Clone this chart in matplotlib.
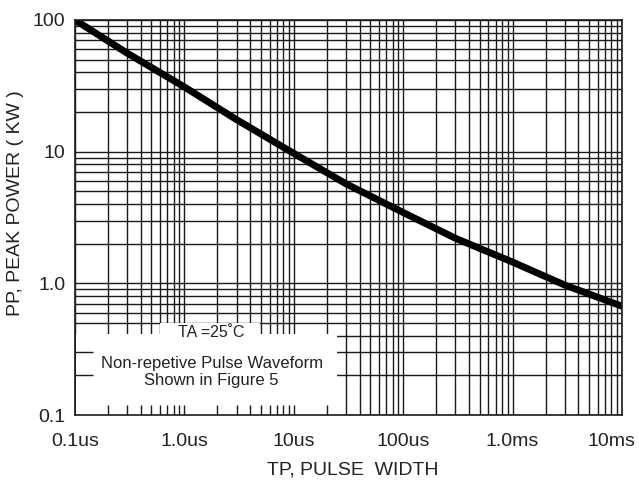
import matplotlib
matplotlib.use("Agg")
import matplotlib.pyplot as plt
import matplotlib.transforms as mtransforms
from matplotlib.patches import Rectangle
from matplotlib.ticker import FixedLocator, NullFormatter

plt.rcParams['font.family'] = ['Liberation Sans', 'DejaVu Sans']

# values (seconds, kW)
pulse_width = [1e-7, 3e-7, 1e-6, 3e-6, 1e-5, 3e-5, 1e-4, 3e-4, 1e-3, 3e-3, 1e-2]
peak_power = [100, 56, 31, 17.5, 9.7, 5.7, 3.45, 2.2, 1.45, 0.97, 0.67]

x_ticks = [1e-7, 1e-6, 1e-5, 1e-4, 1e-3, 1e-2]
x_labels = ["0.1us", "1.0us", "10us", "100us", "1.0ms", "10ms"]
y_ticks = [0.1, 1, 10, 100]
y_labels = ["0.1", "1.0", "10", "100"]

x_minor = [m * d for d in x_ticks[:-1] for m in range(2, 10)]
y_minor = [m * d for d in y_ticks[:-1] for m in range(2, 10)]

fig = plt.figure(figsize=(6.39, 4.88), dpi=100)
ax = fig.add_axes([75/639, 1 - 415/488, 547/639, 395/488])

ax.set_xscale('log')
ax.set_yscale('log')
ax.set_xlim(1e-7, 1e-2)
ax.set_ylim(0.1, 100)

ax.xaxis.set_minor_locator(FixedLocator(x_minor))
ax.yaxis.set_minor_locator(FixedLocator(y_minor))
ax.xaxis.set_minor_formatter(NullFormatter())
ax.yaxis.set_minor_formatter(NullFormatter())
ax.set_xticks(x_ticks, x_labels)
ax.set_yticks(y_ticks, y_labels)

ax.tick_params(which='both', length=0)
ax.tick_params(axis='x', pad=13, labelsize=14, labelcolor='#222222')
ax.tick_params(axis='y', pad=7, labelsize=14, labelcolor='#222222')

# last x label sits a bit left of its gridline in the original
last = ax.get_xticklabels()[-1]
last.set_transform(last.get_transform() +
                   mtransforms.ScaledTranslation(-11/100, 0, fig.dpi_scale_trans))

ax.set_axisbelow(True)
ax.grid(True, which='both', color='#1a1a1a', linewidth=1.0)
for s in ax.spines.values():
    s.set_color('#1a1a1a')
    s.set_linewidth(1.2)
    s.set_zorder(6)

# white boxes with the notes
ax.add_patch(Rectangle((1.02e-7, 0.1), 2.5e-5 - 1.02e-7, 0.41 - 0.1,
                       facecolor='white', edgecolor='none', zorder=2))
ax.add_patch(Rectangle((6.0e-7, 0.38), 4.9e-6 - 6.0e-7, 0.4985 - 0.38,
                       facecolor='white', edgecolor='none', zorder=2))

# short ticks left inside the big box
box_x = [v for v in x_minor + x_ticks if 1e-7 < v < 2.5e-5]
ax.vlines(box_x, 0, 0.026, transform=ax.get_xaxis_transform(),
          color='#1a1a1a', linewidth=1.0, zorder=3)
ax.hlines([0.2, 0.3], 0, 0.033, transform=ax.get_yaxis_transform(),
          color='#1a1a1a', linewidth=1.0, zorder=3)

ax.plot(pulse_width, peak_power, color='black', linewidth=5,
        solid_capstyle='round', solid_joinstyle='round', zorder=5)

ax.text(0.25, 0.21, "TA =25\u02daC", transform=ax.transAxes,
        ha='center', va='center', fontsize=11.5, color='#222222', zorder=4)
ax.text(0.25, 0.109, "Non-repetive Pulse Waveform\nShown in Figure 5",
        transform=ax.transAxes, ha='center', va='center', fontsize=12,
        color='#222222', linespacing=1.15, zorder=4)

fig.text(353/639, 1 - 470/488, "TP, PULSE  WIDTH", ha='center', va='center',
         fontsize=14, color='#222222')
fig.text(16/639, 1 - 203/488, "PP, PEAK POWER ( KW )", ha='center', va='center',
         rotation=90, fontsize=14, color='#222222')

fig.savefig("out.png", dpi=100)
